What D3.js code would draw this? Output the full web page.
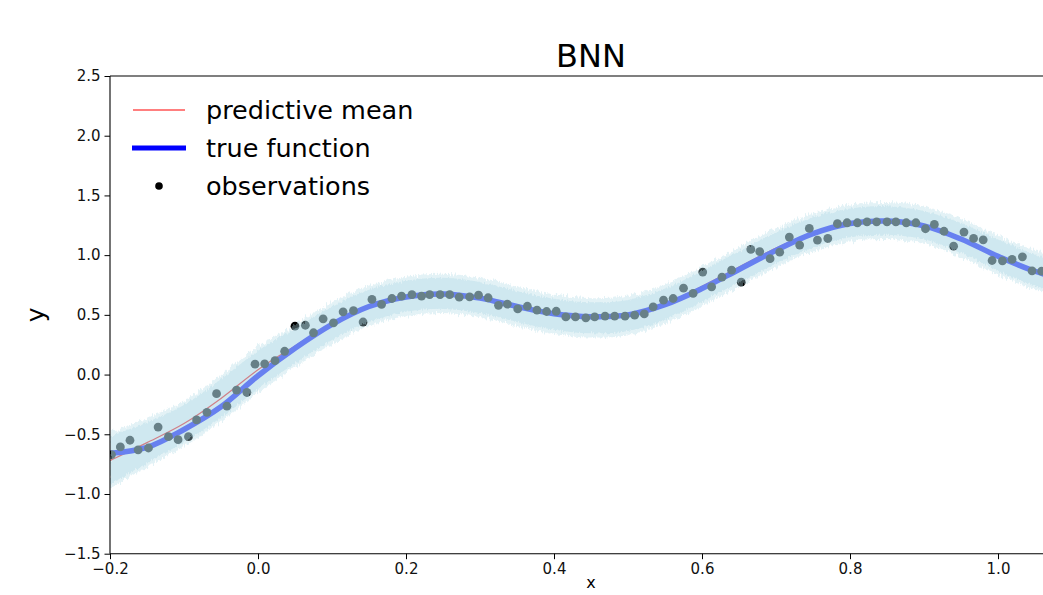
<!DOCTYPE html>
<html>
<head>
<meta charset="utf-8">
<script src="https://cdn.jsdelivr.net/npm/d3@7"></script>
<style>
  html, body { margin: 0; padding: 0; background: #fff; }
  svg { display: block; font-family: "DejaVu Sans", sans-serif; }
</style>
</head>
<body>
<svg id="chart" width="1043" height="595"></svg>
<script>
// ---------- data ----------
const title = "BNN";
const xLabel = "x";
const yLabel = "y";
const legendLabels = ["predictive mean", "true function", "observations"];

const xTicks = [-0.2, 0.0, 0.2, 0.4, 0.6, 0.8, 1.0];
const yTicks = [-1.5, -1.0, -0.5, 0.0, 0.5, 1.0, 1.5, 2.0, 2.5];

const gridX = [-0.2, -0.15, -0.1, -0.05, 0.0, 0.05, 0.1, 0.15, 0.2, 0.25, 0.3, 0.35, 0.4, 0.45,
               0.5, 0.55, 0.6, 0.65, 0.7, 0.75, 0.8, 0.85, 0.9, 0.95, 1.0, 1.05, 1.1];
const trueY = [-0.66, -0.61, -0.46, -0.27, -0.01, 0.22, 0.42, 0.57, 0.65, 0.675, 0.64, 0.57, 0.51, 0.485,
               0.50, 0.585, 0.72, 0.88, 1.04, 1.18, 1.265, 1.285, 1.245, 1.135, 0.99, 0.865, 0.78];
const meanY = [-0.72, -0.57, -0.41, -0.20, 0.04, 0.24, 0.43, 0.575, 0.655, 0.68, 0.645, 0.57, 0.505, 0.475,
               0.495, 0.59, 0.74, 0.90, 1.06, 1.19, 1.27, 1.29, 1.25, 1.145, 1.0, 0.875, 0.79];
const bandHalf = [0.20, 0.17, 0.155, 0.16, 0.16, 0.145, 0.14, 0.135, 0.13, 0.13, 0.13, 0.13, 0.13, 0.13,
                  0.13, 0.13, 0.13, 0.13, 0.13, 0.125, 0.12, 0.12, 0.12, 0.125, 0.13, 0.13, 0.13];

const obsX = [-0.198, -0.186, -0.173, -0.162, -0.148, -0.135, -0.121, -0.108, -0.094, -0.083, -0.069, -0.056,
              -0.042, -0.029, -0.015, -0.004, 0.009, 0.023, 0.036, 0.050, 0.064, 0.075, 0.088, 0.102,
              0.115, 0.129, 0.142, 0.154, 0.167, 0.181, 0.194, 0.208, 0.221, 0.232, 0.246, 0.259,
              0.272, 0.286, 0.298, 0.311, 0.325, 0.337, 0.351, 0.364, 0.377, 0.390, 0.403, 0.416,
              0.429, 0.443, 0.455, 0.469, 0.482, 0.496, 0.509, 0.522, 0.534, 0.548, 0.561, 0.575,
              0.588, 0.601, 0.613, 0.627, 0.640, 0.653, 0.666, 0.678, 0.692, 0.705, 0.718, 0.732,
              0.745, 0.756, 0.770, 0.783, 0.796, 0.810, 0.823, 0.836, 0.850, 0.862, 0.876, 0.889,
              0.902, 0.914, 0.927, 0.940, 0.954, 0.967, 0.980, 0.992, 1.006, 1.019, 1.033, 1.046, 1.059];
const obsY = [-0.67, -0.606, -0.55, -0.63, -0.615, -0.44, -0.52, -0.545, -0.52, -0.38, -0.316, -0.16,
              -0.265, -0.13, -0.15, 0.087, 0.09, 0.117, 0.195, 0.405, 0.413, 0.35, 0.467, 0.433,
              0.525, 0.536, 0.44, 0.629, 0.587, 0.637, 0.657, 0.67, 0.657, 0.67, 0.67, 0.67,
              0.648, 0.651, 0.665, 0.643, 0.58, 0.59, 0.55, 0.572, 0.539, 0.528, 0.53, 0.483,
              0.483, 0.475, 0.483, 0.489, 0.489, 0.489, 0.497, 0.508, 0.567, 0.623, 0.637, 0.723,
              0.679, 0.858, 0.735, 0.816, 0.874, 0.774, 1.048, 1.03, 0.97, 1.025, 1.151, 1.084,
              1.224, 1.126, 1.14, 1.263, 1.271, 1.271, 1.279, 1.279, 1.279, 1.279, 1.271, 1.271,
              1.221, 1.257, 1.20, 1.075, 1.193, 1.14, 1.128, 0.955, 0.952, 0.964, 0.986, 0.869, 0.866];

// ---------- layout ----------
const svg = d3.select("#chart");
const pL = 110, pR = 1072, pT = 76, pB = 553.7;
const x = d3.scaleLinear().domain([-0.2, 1.1]).range([pL, pR]);
const y = d3.scaleLinear().domain([-1.5, 2.5]).range([pB, pT]);

const grid = gridX.map((gx, i) => ({x: gx, t: trueY[i], m: meanY[i], h: bandHalf[i]}));
const obs = obsX.map((ox, i) => ({x: ox, y: obsY[i]}));

const defs = svg.append("defs");
defs.append("clipPath").attr("id", "clip")
  .append("rect").attr("x", pL).attr("y", pT).attr("width", pR - pL).attr("height", pB - pT);

const f1 = defs.append("filter").attr("id", "jag")
  .attr("filterUnits", "userSpaceOnUse")
  .attr("x", 0).attr("y", 0).attr("width", 1100).attr("height", 600);
f1.append("feTurbulence").attr("type", "fractalNoise").attr("baseFrequency", "0.6 0.08")
  .attr("numOctaves", 2).attr("seed", 3).attr("result", "noise");
f1.append("feDisplacementMap").attr("in", "SourceGraphic").attr("in2", "noise")
  .attr("scale", 8).attr("xChannelSelector", "A").attr("yChannelSelector", "G");

const f2 = defs.append("filter").attr("id", "jag2")
  .attr("filterUnits", "userSpaceOnUse")
  .attr("x", 0).attr("y", 0).attr("width", 1100).attr("height", 600);
f2.append("feTurbulence").attr("type", "fractalNoise").attr("baseFrequency", "0.8 0.1")
  .attr("numOctaves", 2).attr("seed", 7).attr("result", "noise");
f2.append("feDisplacementMap").attr("in", "SourceGraphic").attr("in2", "noise")
  .attr("scale", 5).attr("xChannelSelector", "A").attr("yChannelSelector", "G");

const plot = svg.append("g").attr("clip-path", "url(#clip)");

const curve = d3.curveCatmullRom;
const lineMean = d3.line().x(d => x(d.x)).y(d => y(d.m)).curve(curve);
const lineTrue = d3.line().x(d => x(d.x)).y(d => y(d.t)).curve(curve);

plot.append("path").datum(grid).attr("d", lineMean)
  .attr("fill", "none").attr("stroke", "red").attr("stroke-width", 1.2);
plot.append("path").datum(grid).attr("d", lineTrue)
  .attr("fill", "none").attr("stroke", "blue").attr("stroke-width", 5.5);

plot.selectAll("circle.obs").data(obs).enter().append("circle")
  .attr("class", "obs")
  .attr("cx", d => x(d.x)).attr("cy", d => y(d.y)).attr("r", 4.4)
  .attr("fill", "black");

// uncertainty band drawn on top (semi-transparent), as in the reference
const areaOuter = d3.area().x(d => x(d.x))
  .y0(d => y(d.m - d.h - 0.035)).y1(d => y(d.m + d.h + 0.035)).curve(curve);
const areaInner = d3.area().x(d => x(d.x))
  .y0(d => y(d.m - d.h)).y1(d => y(d.m + d.h)).curve(curve);

const bandG = plot.append("g");
bandG.append("path").datum(grid).attr("d", areaOuter)
  .attr("fill", "#add8e6").attr("fill-opacity", 0.34).attr("filter", "url(#jag)");
bandG.append("path").datum(grid).attr("d", areaInner)
  .attr("fill", "#add8e6").attr("fill-opacity", 0.38).attr("filter", "url(#jag2)");

// ---------- axes ----------
const fmt = v => d3.format(".1f")(v).replace("-", "\u2212");

const xAxis = d3.axisBottom(x).tickValues(xTicks).tickFormat(fmt).tickSizeInner(5.5).tickSizeOuter(0).tickPadding(4);
const yAxis = d3.axisLeft(y).tickValues(yTicks).tickFormat(fmt).tickSizeInner(5.5).tickSizeOuter(0).tickPadding(4);

const gxAx = svg.append("g").attr("transform", `translate(0,${pB})`).call(xAxis);
const gyAx = svg.append("g").attr("transform", `translate(${pL},0)`).call(yAxis);
[gxAx, gyAx].forEach(g => {
  g.select(".domain").remove();
  g.selectAll(".tick line").attr("stroke", "#000").attr("stroke-width", 1);
  g.selectAll(".tick text").attr("fill", "#111").style("font-size", "15px")
    .style("font-family", "'DejaVu Sans', sans-serif");
});

// spines (left, bottom, top)
svg.append("line").attr("x1", pL).attr("x2", pL).attr("y1", pT).attr("y2", pB)
  .attr("stroke", "#000").attr("stroke-width", 1.1);
svg.append("line").attr("x1", pL).attr("x2", pR).attr("y1", pB).attr("y2", pB)
  .attr("stroke", "#000").attr("stroke-width", 1.1);
svg.append("line").attr("x1", pL).attr("x2", pR).attr("y1", pT).attr("y2", pT)
  .attr("stroke", "#000").attr("stroke-width", 1.1);

// title and labels
svg.append("text").attr("x", (pL + pR) / 2).attr("y", 67)
  .attr("text-anchor", "middle").style("font-size", "32px").attr("fill", "#000").text(title);
svg.append("text").attr("transform", `translate(44,${(pT + pB) / 2}) rotate(-90)`)
  .attr("text-anchor", "middle").style("font-size", "25px").attr("fill", "#000").text(yLabel);
svg.append("text").attr("x", (pL + pR) / 2).attr("y", 588)
  .attr("text-anchor", "middle").style("font-size", "16px").attr("fill", "#000").text(xLabel);

// ---------- legend ----------
const leg = svg.append("g");
const rows = [110, 148, 186];
leg.append("line").attr("x1", 133).attr("x2", 185).attr("y1", rows[0]).attr("y2", rows[0])
  .attr("stroke", "red").attr("stroke-width", 1.2);
leg.append("line").attr("x1", 132).attr("x2", 186).attr("y1", rows[1]).attr("y2", rows[1])
  .attr("stroke", "blue").attr("stroke-width", 5);
leg.append("circle").attr("cx", 159).attr("cy", rows[2]).attr("r", 3.8).attr("fill", "black");
legendLabels.forEach((lab, i) => {
  leg.append("text").attr("x", 206).attr("y", rows[i]).attr("dy", "0.35em")
    .style("font-size", "25.5px").attr("fill", "#000").text(lab);
});
</script>
</body>
</html>
